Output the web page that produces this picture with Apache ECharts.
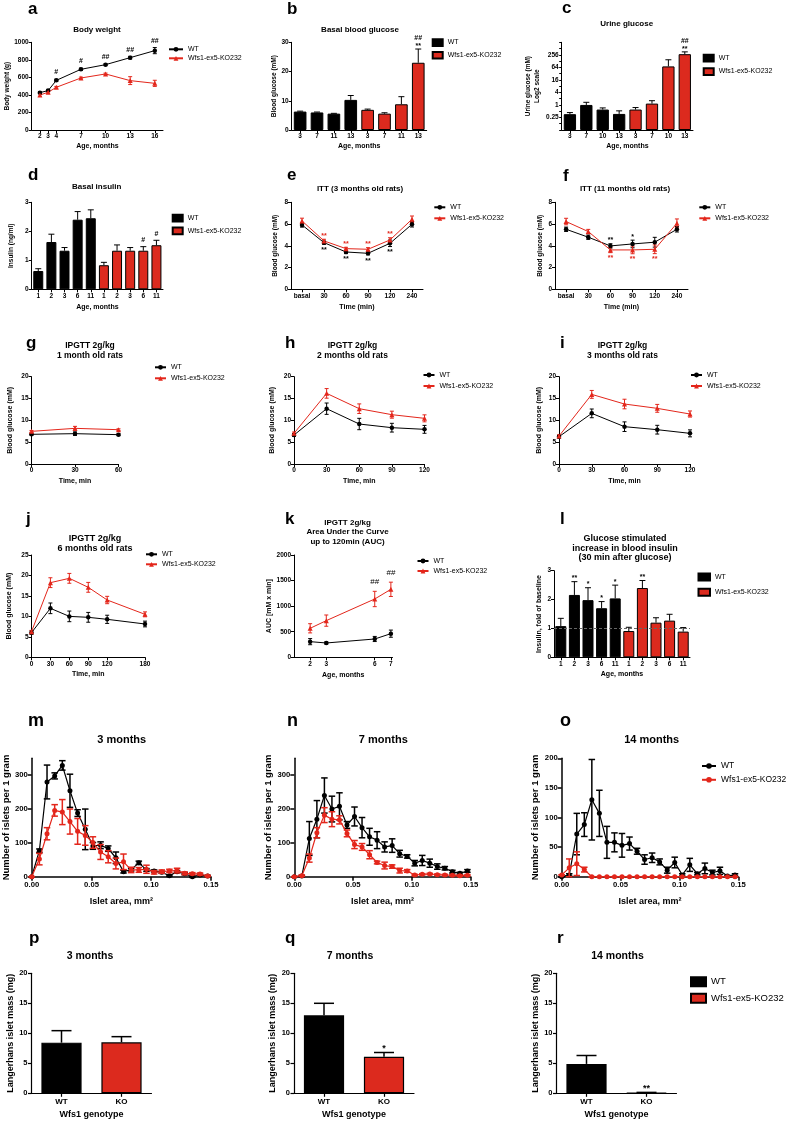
<!DOCTYPE html>
<html><head><meta charset="utf-8">
<script src="https://cdn.jsdelivr.net/npm/echarts@6/dist/echarts.min.js"></script>
<style>html,body{margin:0;padding:0;background:#fff}#c{width:787px;height:1121px}</style>
</head><body><div id="c"></div>
<script>
// ================= DATA =================
const WT_NAME = 'WT';
const KO_NAME = 'Wfs1-ex5-KO232';

// a  Body weight
const A_AGE = [2, 3, 4, 7, 10, 13, 16];
const A_WT = [426, 449, 566, 692, 745, 825, 905];
const A_WT_ERR = [10, 10, 12, 12, 10, 15, 35];
const A_KO = [399, 430, 487, 593, 639, 563, 532];
const A_KO_ERR = [15, 10, 10, 10, 10, 45, 35];
const A_WT_SIG = ['', '', '#', '#', '##', '##', '##'];

// b  Basal blood glucose
const B_CAT = ['3', '7', '11', '13', '3', '7', '11', '13'];
const B_WT = [6.3, 6.0, 5.6, 10.3];
const B_WT_ERR = [0.15, 0.15, 0.1, 1.5];
const B_KO = [6.9, 5.6, 8.8, 23.0];
const B_KO_ERR = [0.25, 0.3, 2.6, 4.7];
const B_KO_SIG = ['', '', '', '##\n**'];

// c  Urine glucose (log2)
const C_CAT = ['3', '7', '10', '13', '3', '7', '10', '13'];
const C_WT = [0.36, 1.0, 0.6, 0.37];
const C_WT_ERR = [0.07, 0.34, 0.12, 0.15];
const C_KO = [0.6, 1.16, 71, 275];
const C_KO_ERR = [0.15, 0.44, 77, 80];
const C_KO_SIG = ['', '', '', '##\n**'];
const C_TICK_POW = [-2, 0, 2, 4, 6, 8];

// d  Basal insulin
const D_CAT = ['1', '2', '3', '6', '11', '1', '2', '3', '6', '11'];
const D_WT = [0.63, 1.63, 1.33, 2.40, 2.45];
const D_WT_ERR = [0.08, 0.27, 0.11, 0.28, 0.29];
const D_KO = [0.83, 1.33, 1.33, 1.33, 1.52];
const D_KO_ERR = [0.1, 0.2, 0.11, 0.14, 0.17];
const D_KO_SIG = ['', '', '', '#', '#'];

// e, f  ITT
const ITT_TIME = ['basal', '30', '60', '90', '120', '240'];
const E_WT = [5.92, 4.29, 3.43, 3.31, 4.23, 5.98];
const E_WT_ERR = [0.2, 0.15, 0.15, 0.15, 0.3, 0.25];
const E_KO = [6.29, 4.45, 3.74, 3.68, 4.54, 6.44];
const E_KO_ERR = [0.25, 0.15, 0.12, 0.15, 0.2, 0.3];
const E_WT_SIG = ['', '**', '**', '**', '**', ''];
const E_KO_SIG = ['', '**', '**', '**', '**', ''];
const F_WT = [5.52, 4.79, 3.99, 4.17, 4.33, 5.52];
const F_WT_ERR = [0.2, 0.2, 0.2, 0.35, 0.45, 0.25];
const F_KO = [6.23, 5.31, 3.62, 3.62, 3.68, 6.07];
const F_KO_ERR = [0.3, 0.2, 0.25, 0.35, 0.4, 0.4];
const F_WT_SIG = ['', '', '**', '*', '', ''];
const F_KO_SIG = ['', '', '**', '**', '**', ''];

// g, h, i  IPGTT
const G_TIME = [0, 30, 60];
const G_WT = [6.8, 6.95, 6.72];
const G_WT_ERR = [0.2, 0.4, 0.2];
const G_KO = [7.48, 8.17, 7.86];
const G_KO_ERR = [0.2, 0.45, 0.2];
const H_TIME = [0, 30, 60, 90, 120];
const H_WT = [6.64, 12.67, 9.16, 8.32, 7.94];
const H_WT_ERR = [0.3, 1.3, 1.3, 1.0, 0.9];
const H_KO = [7.02, 16.18, 12.67, 11.3, 10.46];
const H_KO_ERR = [0.3, 1.1, 1.1, 0.8, 0.8];
const I_WT = [6.26, 11.6, 8.55, 7.86, 7.02];
const I_WT_ERR = [0.3, 1.0, 1.1, 1.0, 0.8];
const I_KO = [6.4, 15.95, 13.74, 12.75, 11.45];
const I_KO_ERR = [0.3, 0.9, 1.1, 0.9, 0.7];

// j  IPGTT 6 months
const J_TIME = [0, 30, 60, 90, 120, 180];
const J_WT = [6.03, 11.97, 10.0, 9.77, 9.28, 8.14];
const J_WT_ERR = [0.4, 1.3, 1.3, 1.2, 1.0, 0.7];
const J_KO = [6.27, 18.24, 19.3, 17.1, 14.0, 10.5];
const J_KO_ERR = [0.3, 1.2, 1.2, 1.2, 0.9, 0.6];

// k  AUC
const K_AGE = [2, 3, 6, 7];
const K_WT = [306, 280, 358, 462];
const K_WT_ERR = [60, 20, 50, 70];
const K_KO = [567, 717, 1140, 1329];
const K_KO_ERR = [90, 110, 150, 140];
const K_KO_SIG = ['', '', '##', '##'];

// l  Glucose stimulated insulin
const L_CAT = ['1', '2', '3', '6', '11', '1', '2', '3', '6', '11'];
const L_WT = [1.08, 2.16, 1.98, 1.70, 2.04];
const L_WT_ERR = [0.27, 0.46, 0.43, 0.23, 0.46];
const L_KO = [0.91, 2.40, 1.20, 1.27, 0.89];
const L_KO_ERR = [0.13, 0.26, 0.17, 0.22, 0.14];
const L_WT_SIG = ['', '**', '*', '*', '*'];
const L_KO_SIG = ['', '**', '', '', ''];
const L_BASELINE = 1;

// m, n, o  islet size distribution
const ISLET_AREA = [0, 0.0064, 0.0128, 0.0192, 0.0256, 0.032, 0.0384, 0.0448, 0.0512, 0.0576, 0.064, 0.0704,
  0.0768, 0.0832, 0.0896, 0.096, 0.1024, 0.1088, 0.1152, 0.1216, 0.128, 0.1344, 0.1408, 0.1472];
const M_WT = [0, 77, 280, 298, 329, 254, 188, 140, 91, 93, 83, 56, 15, 21, 41, 20, 17, 13, 3, 15, 9, 0, 5, 2];
const M_WT_ERR = [0, 5, 50, 9, 14, 49, 10, 60, 10, 10, 8, 17, 4, 4, 5, 4, 3, 3, 2, 3, 3, 2, 2, 2];
const M_KO = [0, 52, 127, 196, 191, 163, 134, 122, 101, 73, 59, 39, 44, 20, 20, 22, 13, 15, 17, 18, 10, 9, 8, 2];
const M_KO_ERR = [0, 17, 18, 17, 37, 37, 38, 29, 17, 22, 18, 16, 23, 8, 7, 12, 5, 5, 5, 7, 4, 3, 3, 2];
const N_WT = [0, 2, 113, 170, 240, 200, 208, 153, 178, 145, 118, 108, 88, 92, 68, 60, 40, 48, 40, 30, 25, 15, 10, 17];
const N_WT_ERR = [0, 2, 50, 55, 52, 38, 40, 10, 28, 30, 25, 25, 15, 20, 10, 5, 8, 15, 12, 8, 5, 4, 3, 4];
const N_KO = [0, 3, 55, 130, 182, 170, 168, 128, 95, 88, 65, 42, 33, 30, 18, 17, 5, 7, 8, 6, 5, 4, 3, 4];
const N_KO_ERR = [0, 2, 12, 15, 22, 22, 12, 10, 12, 10, 12, 4, 10, 5, 7, 4, 2, 2, 2, 2, 2, 2, 2, 2];
const O_WT = [0, 3, 72, 88, 130, 107, 58, 58, 53, 56, 43, 29, 32, 25, 11, 24, 3, 20, 5, 14, 7, 10, 1, 3];
const O_WT_ERR = [0, 2, 35, 20, 68, 39, 27, 16, 20, 11, 5, 8, 8, 5, 5, 9, 2, 11, 2, 9, 4, 6, 1, 2];
const O_KO = [3, 15, 22, 12, 0, 0, 0, 0, 0, 0, 0, 0, 0, 0, 0, 0, 0, 0, 0, 0, 0, 0, 0, 0];
const O_KO_ERR = [0, 15, 20, 4, 0, 0, 0, 0, 0, 0, 0, 0, 0, 0, 0, 0, 0, 0, 0, 0, 0, 0, 0, 0];

// p, q, r  islet mass
const GENO = ['WT', 'KO'];
const P_MASS = [8.44, 8.5];
const P_ERR = [2.0, 0.94];
const Q_MASS = [13.0, 6.1];
const Q_ERR = [2.0, 0.7];
const Q_SIG = ['', '*'];
const R_MASS = [4.9, 0.1];
const R_ERR = [1.4, 0.05];
const R_SIG = ['', '**'];

// ================= BUILD =================
const FONT = '"Liberation Sans", Arial, Helvetica, sans-serif';
const BLK = '#000000';
const RED = '#E3261B';
const RED_BAR = '#DC2A1E';

const option = {
  animation: false, backgroundColor: '#ffffff', textStyle: { fontFamily: FONT },
  grid: [], xAxis: [], yAxis: [], series: [], legend: [], graphic: []
};

function isObj(o) { return o && typeof o === 'object' && !Array.isArray(o); }
function merge(t, ...srcs) {
  for (const s of srcs) for (const k in s) {
    if (isObj(s[k])) t[k] = merge(isObj(t[k]) ? t[k] : {}, s[k]); else t[k] = s[k];
  }
  return t;
}
const plainNum = v => String(v);
function axisBase(st, type) {
  const lbl = { show: true, color: BLK, fontSize: st.fs, fontWeight: 'bold', fontFamily: FONT, margin: st.margin };
  if (type === 'value') lbl.formatter = plainNum;
  return {
    axisLine: { show: true, onZero: false, lineStyle: { color: BLK, width: st.lw } },
    axisTick: { show: true, inside: false, length: st.tick, lineStyle: { color: BLK, width: st.lw } },
    axisLabel: lbl,
    splitLine: { show: false },
    nameLocation: 'middle',
    nameTextStyle: { color: BLK, fontSize: st.nfs, fontWeight: 'bold', fontFamily: FONT }
  };
}
function addGrid(box, st, x, y) {
  const gi = option.grid.length;
  option.grid.push({ left: box[0], top: box[1], width: box[2], height: box[3], containLabel: false });
  option.xAxis.push(merge(axisBase(st, x.type), { gridIndex: gi }, x));
  option.yAxis.push(merge(axisBase(st, y.type), { gridIndex: gi, nameRotate: 90 }, y));
  return gi;
}
function addLine(gi, name, xs, ys, color, sym, size, lw) {
  option.series.push({
    type: 'line', name, xAxisIndex: gi, yAxisIndex: gi,
    data: xs.map((x, i) => [x, ys[i]]),
    symbol: sym, symbolSize: size, showSymbol: true, showAllSymbol: true,
    lineStyle: { color, width: lw }, itemStyle: { color }, z: 4, silent: true,
    emphasis: { disabled: true }
  });
}
function addBars(gi, name, data, color, bw, gap) {
  option.series.push({
    type: 'bar', name, xAxisIndex: gi, yAxisIndex: gi, data,
    barGap: '-100%', barCategoryGap: gap,
    itemStyle: { color, borderColor: BLK, borderWidth: bw }, z: 2, silent: true,
    emphasis: { disabled: true }
  });
  return option.series[option.series.length - 1];
}
function addErr(gi, xs, ms, es, sp) {
  const tf = sp.tf || (v => v);
  const rows = xs.map((x, i) => [x, tf(ms[i]), tf(ms[i] + es[i]), sp.both ? tf(ms[i] - es[i]) : tf(ms[i])]);
  const ann = sp.ann || [];
  option.series.push({
    type: 'custom', xAxisIndex: gi, yAxisIndex: gi, data: rows, z: sp.z || 3, silent: true, clip: false,
    renderItem: (params, api) => {
      const i = params.dataIndex;
      const x = api.value(0);
      const ph = api.coord([x, api.value(2)]);
      const pl = api.coord([x, api.value(3)]);
      const c = sp.cap / 2;
      const st = { stroke: sp.color, lineWidth: sp.lw };
      const ch = [
        { type: 'line', shape: { x1: ph[0], y1: ph[1], x2: pl[0], y2: pl[1] }, style: st },
        { type: 'line', shape: { x1: ph[0] - c, y1: ph[1], x2: ph[0] + c, y2: ph[1] }, style: st }
      ];
      if (sp.both) ch.push({ type: 'line', shape: { x1: pl[0] - c, y1: pl[1], x2: pl[0] + c, y2: pl[1] }, style: st });
      const a = ann[i];
      if (a) {
        const fs = sp.afs || 7;
        const star = a.charAt(a.length - 1) === '*';
        const gap = sp.agap == null ? 2 : sp.agap;
        const font = (sp.aw || 'bold') + ' ' + fs + 'px ' + FONT;
        const below = sp.apos === 'below';
        const yy = below ? pl[1] + gap : ph[1] - gap + (star ? 0.35 * fs : 0);
        const va = below ? 'top' : 'bottom';
        ch.push({ type: 'text', x: ph[0], y: yy, style: {
          text: a, fill: sp.acolor || BLK, font, align: 'center', textAlign: 'center',
          verticalAlign: va, textVerticalAlign: va, lineHeight: fs + 1.5 } });
      }
      return { type: 'group', children: ch };
    }
  });
}
function addLegend(names, left, top, o) {
  option.legend.push({
    orient: 'vertical', left, top, padding: 0, itemGap: o.gap, itemWidth: o.w, itemHeight: o.h,
    selectedMode: false, data: names.map(n => o.icon ? { name: n, icon: o.icon } : { name: n }),
    formatter: n => n.split('|')[0],
    textStyle: { fontSize: o.fs, fontFamily: FONT, color: BLK, fontWeight: 'normal' }
  });
}
function txt(x, y, s, fs, align, lh) {
  option.graphic.push({ type: 'text', x, y, silent: true, z: 50, style: {
    text: s, fill: BLK, font: 'bold ' + fs + 'px ' + FONT, align, textAlign: align,
    verticalAlign: 'middle', textVerticalAlign: 'middle', lineHeight: lh || fs + 1 } });
}
const letter = (x, y, s, fs) => txt(x, y, s, fs || 17, 'left');
const title = (x, y, s, fs, lh) => txt(x, y, s, fs, 'center', lh);
const idx = (arr, off) => arr.map((_, i) => i + (off || 0));
const pad = n => new Array(n).fill('-');

const ST1 = { lw: 1, tick: 3, fs: 6.5, nfs: 7, margin: 3 };
const ST5 = { lw: 1.5, tick: 4, fs: 7.7, nfs: 9.5, margin: 4 };
const ST6 = { lw: 1.2, tick: 3.5, fs: 7.5, nfs: 9, margin: 4 };
const sfx = p => [WT_NAME + '|' + p, KO_NAME + '|' + p];

function lineLegend(p, left, top, w, h, gap, fs) { addLegend(sfx(p), left, top, { w, h, gap, fs }); }
function barLegend(p, left, top, w, h, gap, fs) { addLegend(sfx(p), left, top, { w, h, gap, fs, icon: 'rect' }); }

// ---------- a ----------
let g = addGrid([31.7, 42.3, 131.3, 87.7], ST1,
  { type: 'value', min: 1, max: 17, axisLabel: { customValues: A_AGE }, axisTick: { customValues: A_AGE },
    name: 'Age, months', nameGap: 12.5 },
  { type: 'value', min: 0, max: 1000, interval: 200, name: 'Body weight (g)', nameGap: 18,
    nameTextStyle: { fontSize: 6.5 } });
addErr(g, A_AGE, A_WT, A_WT_ERR, { both: true, color: BLK, cap: 4, lw: 1, ann: A_WT_SIG, agap: 2.5 });
addErr(g, A_AGE, A_KO, A_KO_ERR, { both: true, color: RED, cap: 4, lw: 1 });
addLine(g, sfx('a')[0], A_AGE, A_WT, BLK, 'circle', 4.5, 1);
addLine(g, sfx('a')[1], A_AGE, A_KO, RED, 'triangle', 5, 1);
lineLegend('a', 168, 45.8, 14, 6, 2, 7);
title(97, 29.3, 'Body weight', 8);
letter(28, 9, 'a');

// ---------- b ----------
g = addGrid([291.7, 42.3, 135, 87.7], ST1,
  { type: 'category', data: B_CAT, axisLabel: { interval: 0 }, axisTick: { alignWithLabel: true, interval: 0 },
    name: 'Age, months', nameGap: 12.5 },
  { type: 'value', min: 0, max: 30, interval: 10, name: 'Blood glucose (mM)', nameGap: 13.4,
    nameTextStyle: { fontSize: 6.5 } });
addBars(g, sfx('b')[0], B_WT.concat(pad(B_KO.length)), BLK, 1, '25%');
addBars(g, sfx('b')[1], pad(B_WT.length).concat(B_KO), RED_BAR, 1, '25%');
addErr(g, idx(B_WT), B_WT, B_WT_ERR, { color: BLK, cap: 6, lw: 1 });
addErr(g, idx(B_KO, B_WT.length), B_KO, B_KO_ERR, { color: BLK, cap: 6, lw: 1, ann: B_KO_SIG, agap: 1 });
barLegend('b', 431.7, 38.2, 10, 6.7, 4, 7);
title(360, 29.3, 'Basal blood glucose', 8);
letter(287, 9, 'b');

// ---------- c ----------
const log2t = v => Math.log2(v) + 4;
g = addGrid([561.7, 42.3, 131.3, 87.7], ST1,
  { type: 'category', data: C_CAT, axisLabel: { interval: 0 }, axisTick: { alignWithLabel: true, interval: 0 },
    name: 'Age, months', nameGap: 12.5 },
  { type: 'value', min: 0, max: 14, interval: 1, name: 'Urine glucose (mM)\nLog2 scale', nameGap: 13.5,
    nameTextStyle: { fontSize: 6.5, lineHeight: 9.5 }, axisTick: { length: 2.5 },
    axisLabel: { formatter: v => { const p = Math.round(v) - 4; return C_TICK_POW.indexOf(p) >= 0 ? String(Math.pow(2, p)) : ''; } } });
addBars(g, sfx('c')[0], C_WT.map(log2t).concat(pad(C_KO.length)), BLK, 1, '25%');
addBars(g, sfx('c')[1], pad(C_WT.length).concat(C_KO.map(log2t)), RED_BAR, 1, '25%');
addErr(g, idx(C_WT), C_WT, C_WT_ERR, { color: BLK, cap: 6, lw: 1, tf: log2t });
addErr(g, idx(C_KO, C_WT.length), C_KO, C_KO_ERR, { color: BLK, cap: 6, lw: 1, tf: log2t, ann: C_KO_SIG, agap: 1 });
barLegend('c', 702.7, 53.8, 10, 6.7, 4.7, 7);
title(626.7, 23.3, 'Urine glucose', 8);
letter(562, 8.5, 'c');

// ---------- d ----------
g = addGrid([31.7, 202.3, 131.3, 87], ST1,
  { type: 'category', data: D_CAT, axisLabel: { interval: 0 }, axisTick: { alignWithLabel: true, interval: 0 },
    name: 'Age, months', nameGap: 14.5 },
  { type: 'value', min: 0, max: 3, interval: 1, name: 'Insulin (ng/ml)', nameGap: 16.5, nameTextStyle: { fontSize: 6.5 } });
addBars(g, sfx('d')[0], D_WT.concat(pad(D_KO.length)), BLK, 1, '24%');
addBars(g, sfx('d')[1], pad(D_WT.length).concat(D_KO), RED_BAR, 1, '24%');
addErr(g, idx(D_WT), D_WT, D_WT_ERR, { color: BLK, cap: 6, lw: 1 });
addErr(g, idx(D_KO, D_WT.length), D_KO, D_KO_ERR, { color: BLK, cap: 6, lw: 1, ann: D_KO_SIG, agap: 2 });
barLegend('d', 171.7, 213.8, 10, 6.7, 4, 7);
title(96.7, 186.5, 'Basal insulin', 8);
letter(28, 175.7, 'd');

// ---------- e ----------
g = addGrid([291, 202.3, 132, 87], ST1,
  { type: 'category', data: ITT_TIME, boundaryGap: true, axisLabel: { interval: 0 },
    axisTick: { alignWithLabel: true, interval: 0 }, name: 'Time (min)', nameGap: 14 },
  { type: 'value', min: 0, max: 8, interval: 2, name: 'Blood glucose (mM)', nameGap: 12.7, nameTextStyle: { fontSize: 6.5 } });
addErr(g, idx(E_WT), E_WT, E_WT_ERR, { both: true, color: BLK, cap: 4, lw: 1, ann: E_WT_SIG, apos: 'below', agap: 1.5 });
addErr(g, idx(E_KO), E_KO, E_KO_ERR, { both: true, color: RED, cap: 4, lw: 1, ann: E_KO_SIG, acolor: RED, agap: 1.5 });
addLine(g, sfx('e')[0], idx(E_WT), E_WT, BLK, 'circle', 4.5, 1);
addLine(g, sfx('e')[1], idx(E_KO), E_KO, RED, 'triangle', 5, 1);
lineLegend('e', 433.3, 203.8, 11, 6, 4, 7);
title(360, 188.3, 'ITT (3 months old rats)', 8);
letter(287, 175.7, 'e');

// ---------- f ----------
g = addGrid([555, 202.3, 133, 87], ST1,
  { type: 'category', data: ITT_TIME, boundaryGap: true, axisLabel: { interval: 0 },
    axisTick: { alignWithLabel: true, interval: 0 }, name: 'Time (min)', nameGap: 14 },
  { type: 'value', min: 0, max: 8, interval: 2, name: 'Blood glucose (mM)', nameGap: 11.7, nameTextStyle: { fontSize: 6.5 } });
addErr(g, idx(F_WT), F_WT, F_WT_ERR, { both: true, color: BLK, cap: 4, lw: 1, ann: F_WT_SIG, agap: 1.5 });
addErr(g, idx(F_KO), F_KO, F_KO_ERR, { both: true, color: RED, cap: 4, lw: 1, ann: F_KO_SIG, apos: 'below', acolor: RED, agap: 1.5 });
addLine(g, sfx('f')[0], idx(F_WT), F_WT, BLK, 'circle', 4.5, 1);
addLine(g, sfx('f')[1], idx(F_KO), F_KO, RED, 'triangle', 5, 1);
lineLegend('f', 698.3, 203.8, 11, 6, 4, 7);
title(625, 188.3, 'ITT (11 months old rats)', 8);
letter(563, 176.5, 'f');

// ---------- g, h, i ----------
function ipgtt(p, box, xmax, times, wt, wtE, ko, koE, nameGap, legLeft, legTop, titleX, letterX, ttl) {
  const gg = addGrid(box, ST1,
    { type: 'value', min: 0, max: xmax, interval: 30, name: 'Time, min', nameGap: 13.2 },
    { type: 'value', min: 0, max: 20, interval: 5, name: 'Blood glucose (mM)', nameGap });
  addErr(gg, times, wt, wtE, { both: true, color: BLK, cap: 4, lw: 1 });
  addErr(gg, times, ko, koE, { both: true, color: RED, cap: 4, lw: 1 });
  addLine(gg, sfx(p)[0], times, wt, BLK, 'circle', 4.5, 1);
  addLine(gg, sfx(p)[1], times, ko, RED, 'triangle', 5, 1);
  lineLegend(p, legLeft, legTop, 11, 6, 4, 7);
  title(titleX, 350.7, ttl, 8.5, 10);
  letter(letterX, 343, p);
}
ipgtt('g', [31.5, 376.7, 87, 87.3], 60, G_TIME, G_WT, G_WT_ERR, G_KO, G_KO_ERR, 18, 154, 363.8, 90, 26, 'IPGTT 2g/kg\n1 month old rats');
ipgtt('h', [294, 376.7, 130.5, 87.3], 120, H_TIME, H_WT, H_WT_ERR, H_KO, H_KO_ERR, 18, 422.5, 371.5, 352.5, 285, 'IPGTT 2g/kg\n2 months old rats');
ipgtt('i', [559, 376.7, 131, 87.3], 120, H_TIME, I_WT, I_WT_ERR, I_KO, I_KO_ERR, 16.5, 690, 371.5, 622.5, 560, 'IPGTT 2g/kg\n3 months old rats');

// ---------- j ----------
g = addGrid([31.5, 555, 113.5, 102.3], ST1,
  { type: 'value', min: 0, max: 180, axisLabel: { customValues: J_TIME }, axisTick: { customValues: J_TIME },
    name: 'Time, min', nameGap: 13.5 },
  { type: 'value', min: 0, max: 25, interval: 5, name: 'Blood glucose (mM)', nameGap: 19 });
addErr(g, J_TIME, J_WT, J_WT_ERR, { both: true, color: BLK, cap: 4, lw: 1 });
addErr(g, J_TIME, J_KO, J_KO_ERR, { both: true, color: RED, cap: 4, lw: 1 });
addLine(g, sfx('j')[0], J_TIME, J_WT, BLK, 'circle', 4.5, 1);
addLine(g, sfx('j')[1], J_TIME, J_KO, RED, 'triangle', 5, 1);
lineLegend('j', 145, 550.8, 11, 6, 3, 7);
title(95, 543.3, 'IPGTT 2g/kg\n6 months old rats', 9, 10);
letter(26, 519.5, 'j');

// ---------- k ----------
g = addGrid([294, 555, 98.5, 102.3], ST1,
  { type: 'value', min: 1, max: 7.1, axisLabel: { customValues: K_AGE }, axisTick: { customValues: K_AGE },
    name: 'Age, months', nameGap: 14 },
  { type: 'value', min: 0, max: 2000, interval: 500, name: 'AUC [mM x min]', nameGap: 16.5 });
addErr(g, K_AGE, K_WT, K_WT_ERR, { both: true, color: BLK, cap: 4, lw: 1 });
addErr(g, K_AGE, K_KO, K_KO_ERR, { both: true, color: RED, cap: 4, lw: 1, ann: K_KO_SIG, aw: 'normal', afs: 8, agap: 5 });
addLine(g, sfx('k')[0], K_AGE, K_WT, BLK, 'circle', 4.5, 1);
addLine(g, sfx('k')[1], K_AGE, K_KO, RED, 'triangle', 5, 1);
lineLegend('k', 416.5, 557.5, 11, 6, 3, 7);
title(347.5, 532.1, 'IPGTT 2g/kg\nArea Under the Curve\nup to 120min (AUC)', 8, 9.7);
letter(285, 519.5, 'k');

// ---------- l ----------
g = addGrid([554, 570.7, 136, 86.6], ST1,
  { type: 'category', data: L_CAT, axisLabel: { interval: 0 }, axisTick: { alignWithLabel: true, interval: 0 },
    name: 'Age, months', nameGap: 13.5 },
  { type: 'value', min: 0, max: 3, interval: 1, name: 'Insulin, fold of baseline', nameGap: 11.5 });
const lwtBars = addBars(g, sfx('l')[0], L_WT.concat(pad(L_KO.length)), BLK, 1, '19%');
addBars(g, sfx('l')[1], pad(L_WT.length).concat(L_KO), RED_BAR, 1, '19%');
lwtBars.markLine = { silent: true, symbol: 'none', label: { show: false }, z: 5,
  lineStyle: { type: [3, 2], color: '#666', width: 1 }, data: [{ yAxis: L_BASELINE }] };
addErr(g, idx(L_WT), L_WT, L_WT_ERR, { color: BLK, cap: 6, lw: 1, ann: L_WT_SIG, agap: 1.5 });
addErr(g, idx(L_KO, L_WT.length), L_KO, L_KO_ERR, { color: BLK, cap: 6, lw: 1, ann: L_KO_SIG, agap: 1.5 });
barLegend('l', 697.5, 572.5, 11.5, 7, 6.3, 7);
title(625, 548.1, 'Glucose stimulated\nincrease in blood insulin\n(30 min after glucose)', 9, 9.8);
letter(560, 519.5, 'l');

// ---------- m, n, o ----------
function islets(p, box, ymax, yCustom, wt, wtE, ko, koE, nameGap, titleX, letterX, ttl) {
  const yax = { type: 'value', min: 0, max: ymax, name: 'Number of islets per 1 gram', nameGap };
  if (yCustom) { yax.axisLabel = { customValues: yCustom }; yax.axisTick = { customValues: yCustom }; }
  else yax.interval = 50;
  const gg = addGrid(box, ST5,
    { type: 'value', min: 0, max: 0.15, interval: 0.05, axisLabel: { formatter: v => v.toFixed(2) },
      name: 'Islet area, mm²', nameGap: 20.5, nameTextStyle: { fontSize: 9 } }, yax);
  addErr(gg, ISLET_AREA, wt, wtE, { both: true, color: BLK, cap: 6.5, lw: 1.5 });
  addLine(gg, sfx(p)[0], ISLET_AREA, wt, BLK, 'circle', 5, 1.2);
  addErr(gg, ISLET_AREA, ko, koE, { both: true, color: RED, cap: 6.5, lw: 1.5, z: 5 });
  addLine(gg, sfx(p)[1], ISLET_AREA, ko, RED, 'circle', 5, 1.2);
  option.series[option.series.length - 1].z = 6;
  title(titleX, 740, ttl, 11);
  letter(letterX, 720.7, p, 18);
}
islets('m', [31.7, 758.3, 179.3, 118.4], 350, [0, 100, 200, 300], M_WT, M_WT_ERR, M_KO, M_KO_ERR, 17, 121.7, 28, '3 months');
islets('n', [294.3, 758.3, 176.4, 118.4], 350, [0, 100, 200, 300], N_WT, N_WT_ERR, N_KO, N_KO_ERR, 17.5, 383.3, 287, '7 months');
islets('o', [561.7, 758.3, 176.6, 118.4], 200, null, O_WT, O_WT_ERR, O_KO, O_KO_ERR, 21.5, 651.7, 560, '14 months');
lineLegend('o', 701, 761.5, 14, 7, 4.8, 8.5);

// ---------- p, q, r ----------
function mass(p, box, vals, errs, sig, nameGap, titleX, letterX, ttl) {
  const gg = addGrid(box, ST6,
    { type: 'category', data: GENO, axisLabel: { interval: 0, fontSize: 8 }, axisTick: { alignWithLabel: true },
      name: 'Wfs1 genotype', nameGap: 17 },
    { type: 'value', min: 0, max: 20, interval: 5, name: 'Langerhans islet mass (mg)', nameGap });
  addBars(gg, sfx(p)[0], [vals[0], '-'], BLK, 1.2, '33%');
  addBars(gg, sfx(p)[1], ['-', vals[1]], RED_BAR, 1.2, '33%');
  addErr(gg, idx(vals), vals, errs, { color: BLK, cap: 20, lw: 1.5, ann: sig, afs: 9, agap: 2 });
  title(titleX, 956, ttl, 10.5);
  letter(letterX, 938, p);
}
mass('p', [31.5, 973.3, 120, 120], P_MASS, P_ERR, null, 16, 90, 29, '3 months');
mass('q', [294, 973.3, 120, 120], Q_MASS, Q_ERR, Q_SIG, 17, 350, 285, '7 months');
mass('r', [556.5, 973.3, 120, 120], R_MASS, R_ERR, R_SIG, 14.5, 617.5, 557, '14 months');
barLegend('r', 690, 976.3, 15, 9, 5.5, 9.5);

const chart = echarts.init(document.getElementById('c'), null, { renderer: 'canvas' });
chart.setOption(option);
</script>
</body></html>
